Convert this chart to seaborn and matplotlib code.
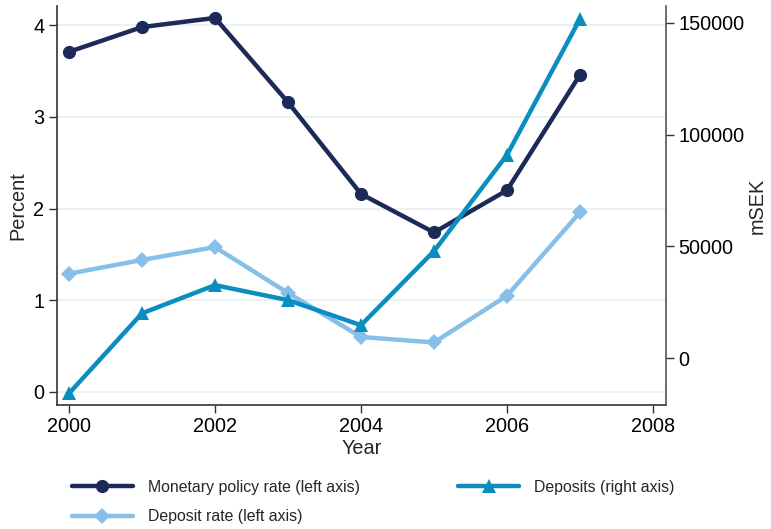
import matplotlib
matplotlib.use("Agg")
import matplotlib.pyplot as plt
import seaborn as sns
import pandas as pd
from matplotlib.lines import Line2D

years = [2000, 2001, 2002, 2003, 2004, 2005, 2006, 2007]
policy_rate = [3.71, 3.98, 4.08, 3.16, 2.16, 1.74, 2.20, 3.46]
deposit_rate = [1.29, 1.44, 1.58, 1.08, 0.60, 0.54, 1.05, 1.96]
deposits = [-15700, 20100, 32700, 26000, 14800, 47900, 90900, 151700]

labels = ["Monetary policy rate (left axis)", "Deposit rate (left axis)", "Deposits (right axis)"]
c_policy = "#1b2a58"
c_drate = "#86c0e8"
c_dep = "#0a8dbf"

sns.set_theme(style="white")
plt.rcParams["font.family"] = ["Liberation Sans", "DejaVu Sans"]

df = pd.DataFrame({"Year": years, "policy": policy_rate, "drate": deposit_rate, "dep": deposits})

fig = plt.figure(figsize=(7.71, 5.29), dpi=100)
ax = fig.add_axes([57/771, 1 - 405/529, (666-57)/771, (405-6)/529])
ax2 = ax.twinx()

lw = 3.2
sns.lineplot(data=df, x="Year", y="policy", ax=ax, color=c_policy, lw=lw, marker="o", markersize=9.5,
             markeredgewidth=0, zorder=3)
sns.lineplot(data=df, x="Year", y="drate", ax=ax, color=c_drate, lw=lw, marker="D", markersize=8,
             markeredgewidth=0, zorder=4)
sns.lineplot(data=df, x="Year", y="dep", ax=ax2, color=c_dep, lw=lw, marker="^", markersize=10,
             markeredgewidth=0, zorder=5)

ax.set_xlim(1999.836, 2008.178)
ax.set_ylim(-0.142, 4.21)
ax2.set_ylim(-20870, 157460)
ax.set_xticks([2000, 2002, 2004, 2006, 2008])
ax.set_yticks([0, 1, 2, 3, 4])
ax2.set_yticks([0, 50000, 100000, 150000])

ax.grid(axis="y", color="#e6eff2", lw=1.2)
ax.set_axisbelow(True)
ax2.grid(False)

for a in (ax, ax2):
    a.spines["top"].set_visible(False)
ax.spines["right"].set_visible(False)
ax2.spines["left"].set_visible(False)
ax2.spines["bottom"].set_visible(False)
for s in ("left", "bottom"):
    ax.spines[s].set_color("#333333")
    ax.spines[s].set_linewidth(1.2)
ax2.spines["right"].set_color("#555555")
ax2.spines["right"].set_linewidth(1.2)

fs = 14.3
ax.tick_params(axis="both", which="major", direction="out", length=6, width=1, color="#333333",
               labelsize=fs, labelcolor="black", left=True, bottom=True, pad=3)
ax2.tick_params(axis="y", direction="out", length=6, width=1, color="#333333",
                labelsize=fs, labelcolor="black", right=True, pad=3)

ax.set_xlabel("Year", fontsize=fs, labelpad=2)
ax.set_ylabel("Percent", fontsize=fs, labelpad=4)
ax2.set_ylabel("mSEK", fontsize=fs, labelpad=2)

handles = [
    Line2D([], [], color=c_policy, lw=lw, marker="o", markersize=9.5, markeredgewidth=0),
    Line2D([], [], color=c_drate, lw=lw, marker="D", markersize=8, markeredgewidth=0),
    Line2D([], [], color=c_dep, lw=lw, marker="^", markersize=10, markeredgewidth=0),
]
fig.legend(handles, labels,
           loc="upper left", bbox_to_anchor=(72/771, 1 - 480/529), ncol=2, frameon=False,
           fontsize=11.4, handlelength=3.85, handletextpad=0.95, columnspacing=6.2,
           labelspacing=0.9, borderaxespad=0, borderpad=0)

fig.savefig("out.png", dpi=100)
